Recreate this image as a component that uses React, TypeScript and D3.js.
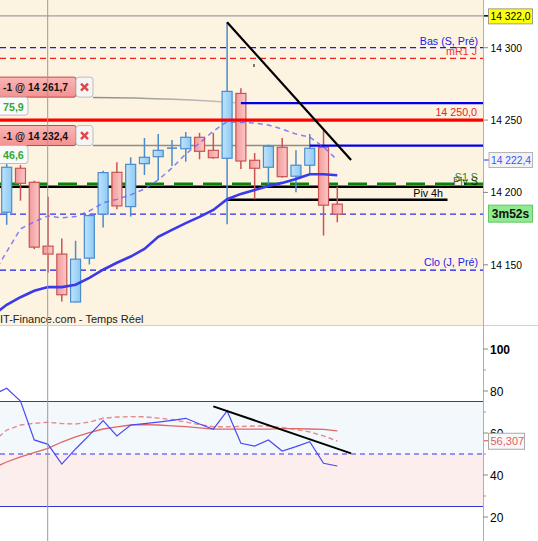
import React from 'react';
import * as d3 from 'd3';

const W = 538;
const H = 541;

// ---- candles (index 0..24) ----
const candleOpen = [14186.3, 14216.7, 14207.0, 14162.9, 14157.4, 14124.3, 14154.6, 14185.0, 14213.9, 14190.2, 14219.9, 14224.7, 14230.5, 14230.2, 14238.1, 14229.1, 14223.6, 14268.4, 14222.2, 14217.4, 14231.2, 14211.2, 14218.8, 14231.2, 14191.9];
const candleHigh = [14221.0, 14219.0, 14208.1, 14197.1, 14168.1, 14166.6, 14185.0, 14215.0, 14220.8, 14224.3, 14237.6, 14240.3, 14236.2, 14241.7, 14241.2, 14241.2, 14317.6, 14271.9, 14227.2, 14233.0, 14237.6, 14229.1, 14240.3, 14243.1, 14204.0];
const candleLow = [14177.6, 14194.3, 14160.8, 14144.5, 14124.7, 14124.0, 14150.2, 14175.7, 14188.4, 14183.3, 14212.1, 14208.6, 14218.3, 14221.2, 14222.9, 14223.3, 14178.1, 14216.2, 14195.3, 14205.2, 14210.2, 14200.1, 14213.2, 14170.2, 14179.4];
const candleClose = [14217.4, 14206.3, 14162.2, 14157.4, 14129.3, 14153.9, 14184.0, 14213.7, 14190.7, 14219.4, 14224.3, 14229.1, 14230.6, 14238.1, 14228.4, 14224.0, 14269.8, 14221.7, 14216.7, 14231.9, 14210.9, 14218.8, 14230.5, 14191.2, 14185.0];

// ---- lines, index -1..24 ----
const maSlow = [14115.0, 14122.4, 14127.6, 14132.1, 14134.6, 14134.6, 14136.2, 14141.0, 14146.6, 14151.4, 14155.7, 14161.0, 14169.3, 14174.1, 14178.8, 14183.1, 14187.9, 14195.3, 14199.0, 14201.7, 14204.5, 14206.6, 14209.3, 14212.6, 14212.6, 14211.9];
const maFast = [14143.0, 14159.0, 14174.8, 14179.7, 14183.8, 14182.4, 14183.3, 14187.2, 14192.8, 14195.2, 14198.3, 14202.4, 14208.6, 14216.9, 14226.6, 14234.1, 14242.4, 14248.8, 14248.4, 14247.9, 14246.6, 14243.8, 14240.3, 14238.3, 14231.4, 14222.4];
const rsiValues = [78.1, 81.3, 75.2, 56.7, 54.6, 45.2, 52.4, 59.0, 65.9, 58.6, 63.8, 64.5, 65.2, 66.0, 67.0, 64.3, 61.8, 70.5, 55.1, 53.8, 56.7, 51.4, 53.5, 55.9, 45.6, 44.3];
const rsiSignal = [43.3, 46.2, 48.6, 50.7, 52.7, 55.7, 58.2, 60.2, 61.9, 62.9, 63.8, 64.0, 63.8, 63.4, 63.0, 62.4, 61.8, 61.8, 61.8, 61.8, 61.8, 62.1, 62.1, 61.9, 61.7, 61.0];
const rsiSignalDashed = [55.7, 61.4, 63.8, 64.6, 65.1, 64.5, 64.3, 65.2, 67.0, 67.6, 67.8, 67.7, 67.1, 66.4, 65.2, 64.0, 63.0, 63.0, 63.1, 63.3, 63.3, 62.6, 61.7, 60.5, 58.6, 56.2];
const rsiLast = 56.307;

// ---- ticks ----
const priceTicks = [14300, 14250, 14200, 14150];
const rsiTicks = [20, 40, 60, 80, 100];
const rsiMinorTicks = [30, 50, 70, 90];
const rsiBands = [25, 50, 75];

// ---- levels ----
const levelHigh = 14322.0;
const levelBas = 14300.0;
const levelMR1 = 14292.6;
const levelRed = 14250.0;
const levelS1 = 14206.0;
const levelPivS = 14203.9;
const levelPiv4h = 14194.9;
const levelClo = 14146.3;
const piv4hRange = [16, 32];

// ---- orders ----
const orderPrices = [14261.7, 14232.4];
const orderStart = [17, 22];
const orderGains = [75.9, 46.6];
const orderLabelLift = [6, 0];

// ---- trendlines ----
const trendMainIdx = [16, 25];
const trendMainPrice = [14317.6, 14222.4];
const trendRsiIdx = [15, 25];
const trendRsiVal = [72.7, 50.3];

const timerText = '3m52s';
const sourceText = 'IT-Finance.com - Temps Réel';

const locale = d3.formatLocale({ decimal: ',', thousands: ' ', grouping: [3], currency: ['', ''] });
const f0 = locale.format(',.0f');
const f1 = locale.format(',.1f');
const f3 = locale.format('.3f');

const FONT = '"Liberation Sans", Arial, sans-serif';
const AX = 10.3;

export default function App() {
  const plotR = 483;
  const mainB = 325;
  const lowT = 326;

  const x = d3.scaleLinear().domain([0, 24]).range([6.7, 337.3]);
  const yP = d3.scaleLinear().domain([14150, 14300]).range([264.8, 47.7]);
  const yR = d3.scaleLinear().domain([20, 100]).range([517, 349]);
  const bw = 10;

  const lineP = d3.line<number>().x((_, i) => x(i - 1)).y((d) => yP(d));
  const lineR = d3.line<number>().x((_, i) => x(i - 1)).y((d) => yR(d));

  const lastClose = candleClose[candleClose.length - 1];

  const hLine = (p: number, x0: number, x1: number, stroke: string, sw: number, dash?: string) => (
    <line x1={x0} x2={x1} y1={yP(p)} y2={yP(p)} stroke={stroke} strokeWidth={sw} strokeDasharray={dash} />
  );

  return (
    <svg width={W} height={H} style={{ position: 'absolute', left: 0, top: 0, fontFamily: FONT }}>
      <defs>
        <linearGradient id="gBlue" x1="0" x2="1" y1="0" y2="0">
          <stop offset="0" stopColor="#c0e3fc" />
          <stop offset="1" stopColor="#8ccaf4" />
        </linearGradient>
        <linearGradient id="gRed" x1="0" x2="1" y1="0" y2="0">
          <stop offset="0" stopColor="#f39a9a" />
          <stop offset="1" stopColor="#fbc8c8" />
        </linearGradient>
        <linearGradient id="gOrder" x1="0" x2="0" y1="0" y2="1">
          <stop offset="0" stopColor="#fbb6b6" />
          <stop offset="1" stopColor="#f39292" />
        </linearGradient>
        <linearGradient id="gConn" x1="0" x2="1" y1="0" y2="0">
          <stop offset="0" stopColor="#8c8c8c" />
          <stop offset="1" stopColor="#c8c8c8" />
        </linearGradient>
        <clipPath id="clipMain"><rect x={0} y={0} width={plotR} height={mainB} /></clipPath>
        <clipPath id="clipLow"><rect x={0} y={lowT} width={plotR} height={H - lowT} /></clipPath>
      </defs>

      <rect x={0} y={0} width={W} height={H} fill="#ffffff" />
      <rect x={0} y={0} width={plotR} height={mainB} fill="#fdf3e1" />

      {/* lower panel bands */}
      <g clipPath="url(#clipLow)">
        <rect x={0} y={yR(rsiBands[2])} width={plotR} height={yR(rsiBands[1]) - yR(rsiBands[2])} fill="#f3f8fd" />
        <rect x={0} y={yR(rsiBands[1])} width={plotR} height={yR(rsiBands[0]) - yR(rsiBands[1])} fill="#fdeeee" />
        <line x1={0} x2={plotR} y1={yR(rsiBands[2])} y2={yR(rsiBands[2])} stroke="#3434d4" strokeWidth={1.2} />
        <line x1={0} x2={plotR} y1={yR(rsiBands[0])} y2={yR(rsiBands[0])} stroke="#3434d4" strokeWidth={1.2} />
        <line x1={0} x2={plotR} y1={yR(rsiBands[1])} y2={yR(rsiBands[1])} stroke="#3434f0" strokeWidth={1.2} strokeDasharray="5,4" />
        <path d={lineR(rsiSignalDashed) || ''} fill="none" stroke="#e88a8a" strokeWidth={1.4} strokeDasharray="5,3" />
        <path d={lineR(rsiSignal) || ''} fill="none" stroke="#e06666" strokeWidth={1.3} />
        <path d={lineR(rsiValues) || ''} fill="none" stroke="#4a4af5" strokeWidth={1.2} />
        <line x1={x(trendRsiIdx[0])} y1={yR(trendRsiVal[0])} x2={x(trendRsiIdx[1])} y2={yR(trendRsiVal[1])} stroke="#000" strokeWidth={2} />
      </g>

      <g clipPath="url(#clipMain)">
        {/* horizontal levels */}
        {hLine(levelHigh, 0, plotR, '#a0a0a0', 1.2)}
        {hLine(levelBas, 0, plotR, '#1a1ae6', 1.2, '6,4')}
        {hLine(levelMR1, 0, plotR, '#f02020', 1.2, '6,4')}
        {hLine(levelClo, 0, plotR, '#1a1ae6', 1.2, '6,4')}
        {hLine(lastClose, 0, plotR, '#3030f0', 1.2, '6,4')}
        {hLine(levelS1, 0, plotR, '#0a820a', 2.6, '19,10')}
        {hLine(levelPivS, 0, plotR, '#000', 2.4)}
        {hLine(levelPiv4h, x(piv4hRange[0]), x(piv4hRange[1]), '#000', 2.4)}

        {/* order connectors */}
        <path d={`M93,${yP(orderPrices[0]) - orderLabelLift[0] + 0.3} Q180,${yP(orderPrices[0]) - 5} ${x(orderStart[0])},${yP(orderPrices[0])}`} fill="none" stroke="url(#gConn)" strokeWidth={1.5} />
        {hLine(orderPrices[1], 93, x(orderStart[1]), '#8c8c8c', 1.5)}

        {/* candles */}
        {candleOpen.map((o, i) => {
          const c = candleClose[i];
          const up = c >= o;
          const cx = x(i);
          const top = yP(Math.max(o, c));
          const bot = yP(Math.min(o, c));
          const stroke = up ? '#4b8ccb' : '#c95454';
          return (
            <g key={i}>
              <line x1={cx} x2={cx} y1={yP(candleHigh[i])} y2={yP(candleLow[i])} stroke={stroke} strokeWidth={1.5} />
              {bot - top < 1.5 ? (
                <line x1={cx - bw / 2} x2={cx + bw / 2} y1={top} y2={top} stroke={stroke} strokeWidth={1.5} />
              ) : (
                <rect x={cx - bw / 2} y={top} width={bw} height={bot - top} fill={up ? 'url(#gBlue)' : 'url(#gRed)'} stroke={stroke} strokeWidth={1.2} />
              )}
            </g>
          );
        })}

        {/* order lines */}
        {hLine(orderPrices[0], x(orderStart[0]), plotR, '#0000e6', 2.2)}
        {hLine(orderPrices[1], x(orderStart[1]), plotR, '#0000e6', 2.2)}
        {hLine(levelRed, 0, plotR, '#ff0000', 3.2)}

        {/* moving averages */}
        <path d={lineP(maFast) || ''} fill="none" stroke="#6464fa" strokeOpacity={0.8} strokeWidth={1.5} strokeDasharray="5,4" />
        <path d={lineP(maSlow) || ''} fill="none" stroke="#3a3aea" strokeWidth={2.6} />

        {/* trendline */}
        <line x1={x(trendMainIdx[0])} y1={yP(trendMainPrice[0])} x2={x(trendMainIdx[1])} y2={yP(trendMainPrice[1])} stroke="#000" strokeWidth={2.2} />
        <line x1={254} x2={254} y1={64} y2={67} stroke="#000" strokeWidth={1} />

        {/* level labels */}
        <text x={478} y={yP(levelBas) - 3} textAnchor="end" fontSize={10.7} fill="#1a1ae6">Bas (S, Pré)</text>
        <text x={477} y={yP(levelMR1) - 3} textAnchor="end" fontSize={10.7} fill="#f03030">mR1 J</text>
        <text x={477} y={yP(levelRed) - 4} textAnchor="end" fontSize={10.7} fill="#f02020">{f1(levelRed)}</text>
        <text x={478} y={yP(levelS1) - 2.5} textAnchor="end" fontSize={10.7} fill="#2a8a2a">S1 S</text>
        <text x={478} y={yP(levelPivS) - 2} textAnchor="end" fontSize={10.7} fill="#000" fillOpacity={0.7}>Piv S</text>
        <text x={443} y={yP(levelPiv4h) - 3} textAnchor="end" fontSize={10.7} fill="#000">Piv 4h</text>
        <text x={478} y={yP(levelClo) - 4} textAnchor="end" fontSize={10.7} fill="#2424e8">Clo (J, Pré)</text>

        {/* order labels */}
        {orderPrices.map((p, i) => {
          const b = yP(p) - orderLabelLift[i];
          return (
            <g key={i}>
              <rect x={-3} y={b - 20} width={79} height={20} rx={2} fill="url(#gOrder)" stroke="#c84444" strokeWidth={1} />
              <text x={3} y={b - 6} fontSize={11} fontWeight="bold" fill="#111" textLength={65} lengthAdjust="spacingAndGlyphs">{`-1 @ ${f1(p)}`}</text>
              <rect x={76} y={b - 20} width={17} height={20} rx={3} fill="#f5f5f5" stroke="#bdbdbd" />
              <line x1={81} x2={88} y1={b - 13.5} y2={b - 6.5} stroke="#e04848" strokeWidth={2.4} />
              <line x1={81} x2={88} y1={b - 6.5} y2={b - 13.5} stroke="#e04848" strokeWidth={2.4} />
              <rect x={-3} y={b} width={31} height={18} rx={3} fill="#fafafa" stroke="#bdbdbd" />
              <text x={3} y={b + 13.5} fontSize={10.7} fontWeight="bold" fill="#33a833">{f1(orderGains[i])}</text>
            </g>
          );
        })}

        <text x={0} y={322.5} fontSize={11} fill="#222">{sourceText}</text>
      </g>

      {/* vertical cursor */}
      <line x1={47.7} x2={47.7} y1={0} y2={H} stroke="#9a9a9a" strokeWidth={1} />

      {/* separators and axis */}
      <line x1={0} x2={W} y1={mainB + 0.5} y2={mainB + 0.5} stroke="#d0d0d0" strokeWidth={1} />
      <line x1={plotR + 0.5} x2={plotR + 0.5} y1={0} y2={H} stroke="#b0b0b0" strokeWidth={1} />

      {/* price axis */}
      {priceTicks.map((t) => (
        <g key={t}>
          <line x1={plotR} x2={plotR + 5} y1={yP(t)} y2={yP(t)} stroke="#888" />
          <text x={490.5} y={yP(t) + 4} fontSize={AX} fill="#000">{f0(t)}</text>
        </g>
      ))}
      <line x1={plotR + 1} x2={plotR + 6} y1={yP(levelHigh)} y2={yP(levelHigh)} stroke="#000" strokeWidth={1.5} />
      <rect x={488.5} y={yP(levelHigh) - 7} width={44} height={15} fill="#ffff10" stroke="#a0a080" />
      <text x={490.5} y={yP(levelHigh) + 4} fontSize={AX} fill="#000">{f1(levelHigh)}</text>

      <line x1={plotR + 1} x2={plotR + 6} y1={yP(trendMainPrice[1])} y2={yP(trendMainPrice[1])} stroke="#3355ff" strokeWidth={1.2} />
      <rect x={489} y={yP(trendMainPrice[1]) - 7.5} width={43.5} height={15} fill="#f2f2f2" stroke="#b4b4b4" />
      <text x={491} y={yP(trendMainPrice[1]) + 4} fontSize={AX} fill="#3355ff">{f1(trendMainPrice[1])}</text>

      <rect x={488.5} y={yP(lastClose) - 9} width={44} height={17} fill="#90ea90" stroke="#66c466" />
      <text x={510.5} y={yP(lastClose) + 4} textAnchor="middle" fontSize={12} fontWeight="bold" fill="#111">{timerText}</text>

      {/* rsi axis */}
      {rsiTicks.map((t) => (
        <g key={t}>
          <line x1={plotR} x2={plotR + 5} y1={yR(t)} y2={yR(t)} stroke="#888" />
          <text x={490} y={yR(t) + 4.5} fontSize={12} fontWeight={t === 100 ? 'bold' : 'normal'} fill="#000">{t}</text>
        </g>
      ))}
      {rsiMinorTicks.map((t) => (
        <line key={t} x1={plotR} x2={plotR + 3} y1={yR(t)} y2={yR(t)} stroke="#999" />
      ))}
      <line x1={plotR + 1} x2={plotR + 5} y1={yR(rsiLast)} y2={yR(rsiLast)} stroke="#e06060" strokeWidth={1.2} />
      <rect x={488.5} y={yR(rsiLast) - 7.5} width={36} height={16} fill="#f8f8f8" stroke="#aaaaaa" />
      <text x={490.5} y={yR(rsiLast) + 4} fontSize={11} fill="#e06060">{f3(rsiLast)}</text>
    </svg>
  );
}
